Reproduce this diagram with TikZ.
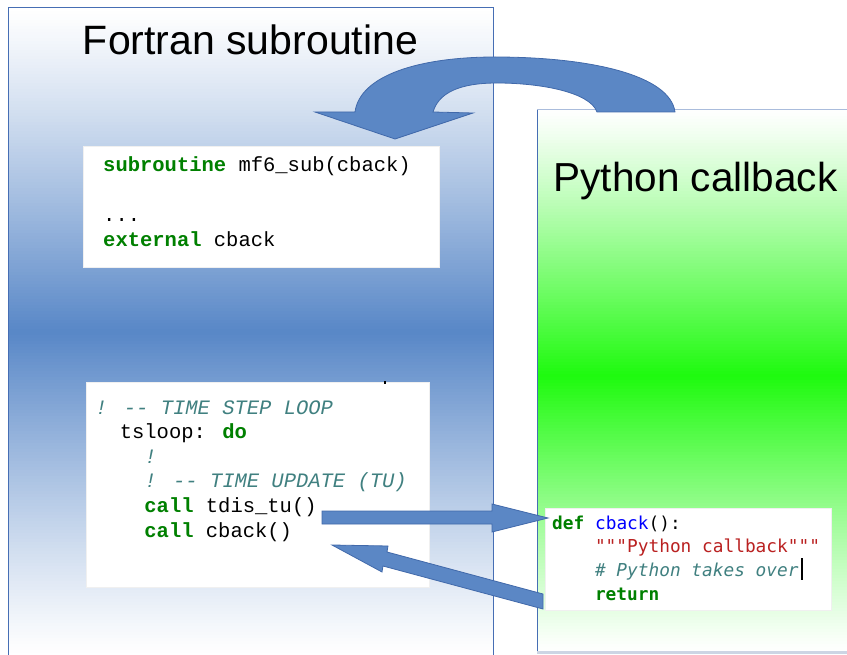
\documentclass[tikz,border=0pt]{standalone}
\usepackage{fontspec}
\setmainfont{Liberation Sans}
\newfontfamily\fmono{Liberation Mono}
\newfontfamily\pmono{DejaVu Sans Mono}
\definecolor{leftblue}{RGB}{88,135,199}
\definecolor{peakgreen}{RGB}{30,250,14}
\definecolor{arrowfill}{RGB}{91,135,197}
\definecolor{arrowedge}{RGB}{65,105,170}
\definecolor{panelline}{RGB}{70,110,180}
\definecolor{toplinec}{RGB}{170,188,220}
\definecolor{botlinec}{RGB}{205,213,228}
\definecolor{kwgreen}{RGB}{0,128,0}
\definecolor{cmteal}{RGB}{64,128,128}
\definecolor{strred}{RGB}{186,33,33}
\definecolor{fnblue}{RGB}{0,0,255}
\tikzset{
  titletext/.style={font=\fontsize{41}{48}\selectfont, inner sep=0pt, anchor=base},
  fline/.style={font=\fmono\fontsize{20.5}{24}\selectfont, inner sep=0pt, anchor=base west},
  pline/.style={font=\pmono\fontsize{17.8}{22}\selectfont, inner sep=0pt, anchor=base west},
  codebox/.style={fill=white, draw=black!6, line width=0.8pt},
  blockarrow/.style={fill=arrowfill, draw=arrowedge, line width=0.8pt, line join=miter},
}
\newcommand{\fkw}[1]{\textbf{\color{kwgreen}#1}}
\newcommand{\fcm}[1]{\textit{\color{cmteal}#1}}
\begin{document}
\begin{tikzpicture}[x=1pt,y=-1pt]
\useasboundingbox (0,0) rectangle (847,655);
% left panel: vertical gradient white - blue - white
\foreach \i in {0,...,215} {
  \pgfmathsetmacro{\ya}{8+3*\i}
  \pgfmathsetmacro{\p}{100*max(0,1-abs(\ya+1.5-332)/324)^1.15}
  \fill[leftblue!\p!white] (8,\ya) rectangle (493,\ya+3.4);
}
\draw[panelline, line width=1pt] (8,656) -- (8,8) -- (493,8) -- (493,656);
% right panel: vertical gradient white - green - white
\foreach \i in {0,...,180} {
  \pgfmathsetmacro{\ya}{110+3*\i}
  \pgfmathsetmacro{\yc}{\ya+1.5}
  \pgfmathsetmacro{\d}{\yc<376 ? (376-\yc)/266 : (\yc-376)/276}
  \pgfmathsetmacro{\p}{100*max(0,1-\d)^1.15}
  \fill[peakgreen!\p!white] (537,\ya) rectangle (848,\ya+3.4);
}
\draw[panelline, line width=1pt] (537,110) -- (537,652);
\draw[toplinec, line width=1pt] (537,110) -- (848,110);
\draw[botlinec, line width=2.5pt] (537,652.5) -- (848,652.5);
% titles
\node[titletext] (ftitle) at (250.5,55) {Fortran subroutine};
\node[titletext, font=\fontsize{40.5}{48}\selectfont] (ptitle) at (695.5,192) {Python callback};
% code boxes
\path[codebox] (83,146) rectangle (439,267);
\path[codebox] (86,382) rectangle (429,587);
\path[codebox] (545,508) rectangle (831,610);
\fill[black] (383.5,381.5) rectangle (386,384.5);
% Fortran box 1
\node[fline] (f1) at (103,172) {\fkw{subroutine} mf6\_sub(cback)};
\node[fline] (f2) at (103,222) {...};
\node[fline] (f3) at (103,247) {\fkw{external} cback};
% Fortran box 2
\node[fline] (g1) at (95,414) {\fcm{! -{}- TIME STEP LOOP}};
\node[fline] (g2) at (119.6,438.6) {tsloop: \fkw{do}};
\node[fline] (g3) at (144.2,463.2) {\fcm{!}};
\node[fline] (g4) at (144.2,487.8) {\fcm{! -{}- TIME UPDATE (TU)}};
\node[fline] (g5) at (144.2,512.4) {\fkw{call} tdis\_tu()};
\node[fline] (g6) at (144.2,537) {\fkw{call} cback()};
% Python box
\node[pline] (p1) at (552,529) {\textbf{\color{kwgreen}def} {\color{fnblue}cback}():};
\node[pline] (p2) at (594.8,552.7) {\color{strred}"""Python callback"""};
\node[pline] (p3) at (594.8,576.3) {\textit{\color{cmteal}\# Python takes over}};
\node[pline] (p4) at (594.8,600) {\textbf{\color{kwgreen}return}};
\draw[black, line width=1.4pt] (802,558) -- (802,580);
% curved arrow (Python -> Fortran)
\path[blockarrow] (675,112) .. controls (670,75) and (590,57) .. (495,57)
  .. controls (420,57) and (360,75) .. (355,112) -- (315,112) -- (395,139)
  -- (473,113) -- (433,112) .. controls (440,88) and (470,83) .. (497,83)
  .. controls (540,83) and (590,92) .. (597,112) -- cycle;
% call arrow (Fortran -> Python)
\path[blockarrow] (322,511) -- (492,511) -- (492,504) -- (548,518) -- (492,532) -- (492,524) -- (322,524) -- cycle;
% return arrow (Python -> Fortran)
\path[blockarrow] (543,594) -- (387,552) -- (388,546) -- (332,545) -- (382,572) -- (383,566) -- (543,609) -- cycle;
\end{tikzpicture}
\end{document}
